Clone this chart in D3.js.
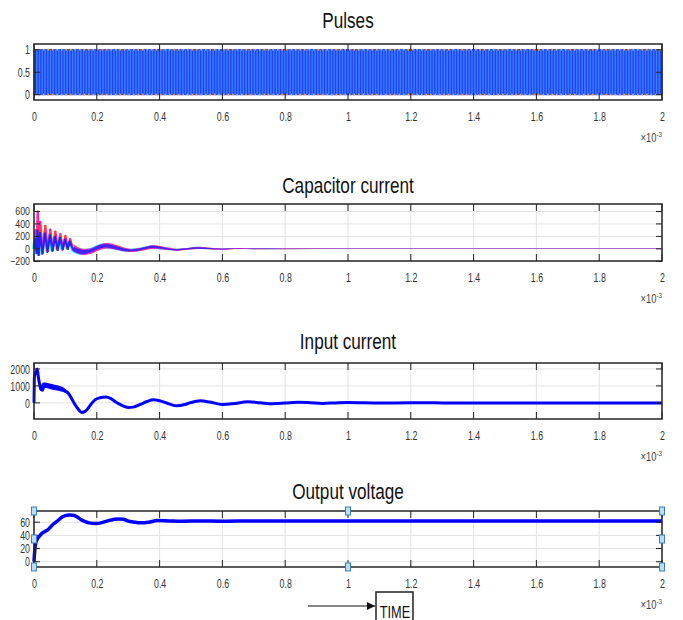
<!DOCTYPE html>
<html>
<head>
<meta charset="utf-8">
<script src="https://cdn.jsdelivr.net/npm/d3@7"></script>
<style>
body{margin:0;background:#fff}
svg{display:block;font-family:"Liberation Sans",Arial,sans-serif}
</style>
</head>
<body>
<svg width="683" height="620"></svg>
<script>
// time axis, in ms (shown as x10^-3 s)
const timeTicks = [0, 0.2, 0.4, 0.6, 0.8, 1, 1.2, 1.4, 1.6, 1.8, 2];
const titles = ["Pulses", "Capacitor current", "Input current", "Output voltage"];

const pulseTicks = [0, 0.5, 1];
const capTicks = [-200, 0, 200, 400, 600];
const inTicks = [0, 1000, 2000];
const outTicks = [0, 20, 40, 60];

// gate pulses: switching period (ms), duty and phase of each leg
const pulsePeriod = 0.01;
const pulseDuty = 0.5;
const pulsePhases = [0, 0.25, 0.5, 0.75];
const pulseLevels = [0, 1];

// capacitor current: early ringing peaks (ms, A)
const capPeakT = [0, 0.004, 0.008, 0.011, 0.015, 0.019, 0.027, 0.035, 0.043, 0.051, 0.059, 0.067, 0.075, 0.083, 0.091, 0.099, 0.107, 0.114, 0.122];
const capPinkV = [0, 300, -20, 600, -90, 430, -60, 370, -40, 310, -30, 280, -20, 240, -10, 210, 0, 160, 20];
const capBlueV = [0, 160, -70, 300, -100, 260, -80, 250, -50, 220, -30, 200, -20, 180, -10, 150, 0, 120, 10];
// capacitor current: slow envelope after the start
const capEnvT = [0.122, 0.14, 0.16, 0.18, 0.2, 0.23, 0.26, 0.29, 0.31, 0.34, 0.38, 0.42, 0.455, 0.49, 0.52, 0.56, 0.6, 0.65, 0.7, 0.8, 1.0, 2.0];
const capEnvMid = [20, -30, -50, -35, 10, 50, 25, -15, -25, -5, 30, 5, -15, 0, 15, 5, -5, 5, 0, 0, 0, 0];
const capEnvAmp = [60, 55, 50, 45, 45, 45, 40, 30, 25, 25, 28, 20, 15, 15, 18, 12, 10, 8, 6, 5, 4, 4];

// input current (ms, A)
const inT = [0, 0.001, 0.003, 0.006, 0.01, 0.014, 0.018, 0.022, 0.027, 0.032, 0.036, 0.042, 0.05, 0.06, 0.07, 0.08, 0.09, 0.1, 0.11, 0.12, 0.13, 0.14, 0.152, 0.163, 0.173, 0.185, 0.194, 0.21, 0.229, 0.245, 0.258, 0.28, 0.3, 0.315, 0.34, 0.36, 0.38, 0.4, 0.43, 0.455, 0.48, 0.5, 0.53, 0.56, 0.6, 0.64, 0.68, 0.72, 0.76, 0.8, 0.84, 0.88, 0.92, 0.96, 1.0, 1.1, 1.2, 1.3, 2.0];
const inV = [0, 1400, 1800, 1700, 2000, 1500, 1100, 800, 750, 1050, 1100, 1000, 980, 950, 900, 850, 800, 700, 550, 250, -80, -350, -560, -500, -300, 0, 180, 300, 340, 250, 80, -150, -270, -250, -80, 80, 180, 130, -60, -175, -100, 20, 120, 50, -90, -30, 60, 10, -50, -10, 40, 10, -30, 0, 20, -10, 10, 0, 0];
// extra ripple band on the input current at the start
const inRippleT = [0.02, 0.03, 0.05, 0.07, 0.09, 0.1, 0.11];
const inRippleAmp = [120, 150, 160, 160, 150, 120, 60];

// output voltage (ms, V)
const outT = [0, 0.001, 0.003, 0.006, 0.01, 0.016, 0.025, 0.035, 0.043, 0.055, 0.064, 0.075, 0.09, 0.1, 0.112, 0.125, 0.138, 0.149, 0.163, 0.176, 0.197, 0.213, 0.235, 0.256, 0.271, 0.285, 0.298, 0.32, 0.34, 0.365, 0.393, 0.43, 0.47, 0.53, 0.6, 0.7, 0.8, 1.0, 1.5, 2.0];
const outV = [0, 8, 20, 30, 34, 38, 43, 46, 48, 54, 58, 62, 68, 70, 71, 70.5, 68, 64, 61, 59, 58, 59, 62, 64.5, 65, 64.5, 62, 60, 59, 60, 62.5, 62, 61.5, 62, 61.5, 62, 61.8, 62, 62, 62];

const svg = d3.select("svg");
const left = 34, right = 662;

// MATLAB figure text is narrow: squeeze each label around its own x
function squeeze(sel, s) {
  sel.each(function () {
    const x = +(this.getAttribute("x") || 0);
    d3.select(this).attr("transform", `translate(${x},0) scale(${s},1) translate(${-x},0)`);
  });
}

const panels = [
  {top: 44, bottom: 100, titleY: 28, domain: [-0.12, 1.13], ticks: pulseTicks, yFont: 13},
  {top: 204, bottom: 261, titleY: 193, domain: [-195, 720], ticks: capTicks, yFont: 11},
  {top: 363, bottom: 419, titleY: 349, domain: [-950, 2350], ticks: inTicks, yFont: 13},
  {top: 511, bottom: 567, titleY: 499, domain: [-8, 77], ticks: outTicks, yFont: 13}
];

panels.forEach((p, i) => {
  p.x = d3.scaleLinear().domain([0, 2]).range([left, right]);
  p.y = d3.scaleLinear().domain(p.domain).range([p.bottom, p.top]);
  const g = svg.append("g");
  p.g = g;

  g.append("text")
    .attr("x", (left + right) / 2).attr("y", p.titleY)
    .attr("text-anchor", "middle")
    .attr("font-size", 22).attr("fill", "#111")
    .text(titles[i])
    .call(squeeze, 0.78);

  // grid
  g.selectAll(".gx").data(timeTicks).enter().append("line")
    .attr("x1", d => p.x(d)).attr("x2", d => p.x(d))
    .attr("y1", p.top).attr("y2", p.bottom)
    .attr("stroke", "#e3e3e3").attr("stroke-width", 1);
  g.selectAll(".gy").data(p.ticks).enter().append("line")
    .attr("x1", left).attr("x2", right)
    .attr("y1", d => p.y(d)).attr("y2", d => p.y(d))
    .attr("stroke", "#e3e3e3").attr("stroke-width", 1);

  // tick labels via d3 axes
  g.append("g")
    .attr("transform", `translate(0,${p.bottom})`)
    .call(d3.axisBottom(p.x).tickValues(timeTicks).tickFormat(d3.format("~g")).tickSize(0).tickPadding(12))
    .call(a => a.select(".domain").remove())
    .selectAll("text").attr("font-size", 13).attr("fill", "#333").attr("font-family", null)
    .call(squeeze, 0.68);
  g.append("g")
    .attr("transform", `translate(${left},0)`)
    .call(d3.axisLeft(p.y).tickValues(p.ticks).tickFormat(d3.format("~g")).tickSize(0).tickPadding(4))
    .call(a => a.select(".domain").remove())
    .selectAll("text").attr("font-size", p.yFont).attr("fill", "#333").attr("font-family", null)
    .call(squeeze, p.yFont < 13 ? 0.8 : 0.68);

  const ex = g.append("text")
    .attr("x", right).attr("y", p.bottom + 42)
    .attr("text-anchor", "end").attr("font-size", 12).attr("fill", "#444");
  ex.append("tspan").text("\u00d710");
  ex.append("tspan").attr("dy", -5).attr("font-size", 8).text("-3");
  squeeze(ex, 0.78);
});

// ---- pulses
(function () {
  const p = panels[0];
  const colors = ["#0000ff", "#2260ff", "#0a1cff", "#3c80ff"];
  const starts = d3.range(0, 2, pulsePeriod);
  pulsePhases.forEach((ph, k) => {
    let pts = [[0, pulseLevels[0]]];
    starts.forEach(s => {
      const on = s + ph * pulsePeriod, off = on + pulseDuty * pulsePeriod;
      pts.push([on, pulseLevels[0]], [on, pulseLevels[1]], [Math.min(off, 2), pulseLevels[1]], [Math.min(off, 2), pulseLevels[0]]);
    });
    p.g.append("path")
      .attr("d", d3.line().x(d => p.x(d[0])).y(d => p.y(d[1]))(pts))
      .attr("fill", "none").attr("stroke", colors[k]).attr("stroke-width", 1);
  });
  p.g.selectAll(".lvl").data(pulseLevels).enter().append("line")
    .attr("x1", left).attr("x2", right)
    .attr("y1", d => p.y(d)).attr("y2", d => p.y(d))
    .attr("stroke", "#ff9933").attr("stroke-width", 1.5)
    .attr("stroke-dasharray", "1.5,3");
})();

// ---- capacitor current
(function () {
  const p = panels[1];
  const env = capEnvT.map((t, i) => ({t, mid: capEnvMid[i], amp: capEnvAmp[i]}));
  const band = (off, k) => d3.area()
    .x(d => p.x(d.t + off))
    .y0(d => p.y(d.mid - d.amp * k))
    .y1(d => p.y(d.mid + d.amp * k))
    .curve(d3.curveMonotoneX)(env);
  [["#ffff00", 0.004, 1], ["#00ffff", -0.004, 1], ["#ff00ff", 0.002, 0.95], ["#ff3399", 0, 0.8], ["#2222ff", -0.002, 0.65]]
    .forEach(([c, off, k]) => {
      p.g.append("path").attr("d", band(off, k)).attr("fill", c).attr("opacity", 0.85);
    });
  const zig = (vals, off) => d3.line().x((d, i) => p.x(capPeakT[i] + off)).y(d => p.y(d))(vals);
  [["#ffff00", capPinkV, 0.003, 2], ["#00ffff", capBlueV, -0.003, 2], ["#ff00ff", capPinkV, 0.001, 2],
   ["#ff3377", capPinkV, 0, 1.5], ["#2222ff", capBlueV, 0, 2]]
    .forEach(([c, v, off, w]) => {
      p.g.append("path").attr("d", zig(v, off)).attr("fill", "none")
        .attr("stroke", c).attr("stroke-width", w).attr("stroke-linejoin", "round");
    });
})();

// ---- input current
(function () {
  const p = panels[2];
  const rip = inRippleT.map((t, i) => ({t, mid: inV[d3.bisectLeft(inT, t)], amp: inRippleAmp[i]}));
  p.g.append("path")
    .attr("d", d3.area().x(d => p.x(d.t)).y0(d => p.y(d.mid - d.amp)).y1(d => p.y(d.mid + d.amp)).curve(d3.curveMonotoneX)(rip))
    .attr("fill", "#0000ff");
  p.g.append("path")
    .attr("d", d3.line().x((d, i) => p.x(inT[i])).y(d => p.y(d)).curve(d3.curveMonotoneX)(inV))
    .attr("fill", "none").attr("stroke", "#0000ff").attr("stroke-width", 3).attr("stroke-linejoin", "round");
})();

// ---- output voltage
(function () {
  const p = panels[3];
  p.g.append("path")
    .attr("d", d3.line().x((d, i) => p.x(outT[i])).y(d => p.y(d)).curve(d3.curveMonotoneX)(outV))
    .attr("fill", "none").attr("stroke", "#0000ff").attr("stroke-width", 3.5).attr("stroke-linejoin", "round");
})();

// box and inner ticks on top of the data
panels.forEach(p => {
  const g = p.g;
  timeTicks.forEach(t => {
    g.append("line").attr("x1", p.x(t)).attr("x2", p.x(t)).attr("y1", p.top).attr("y2", p.top + 7).attr("stroke", "#222");
    g.append("line").attr("x1", p.x(t)).attr("x2", p.x(t)).attr("y1", p.bottom).attr("y2", p.bottom - 7).attr("stroke", "#222");
  });
  p.ticks.forEach(v => {
    g.append("line").attr("x1", left).attr("x2", left + 6).attr("y1", p.y(v)).attr("y2", p.y(v)).attr("stroke", "#222");
    g.append("line").attr("x1", right).attr("x2", right - 6).attr("y1", p.y(v)).attr("y2", p.y(v)).attr("stroke", "#222");
  });
  g.append("rect").attr("x", left).attr("y", p.top)
    .attr("width", right - left).attr("height", p.bottom - p.top)
    .attr("fill", "none").attr("stroke", "#262626").attr("stroke-width", 1.5);
});

// selection handles on the output voltage axes
(function () {
  const p = panels[3];
  const hx = [left, (left + right) / 2, right], hy = [p.top, (p.top + p.bottom) / 2, p.bottom];
  const pts = [];
  hx.forEach((x, i) => hy.forEach((y, j) => { if (!(i === 1 && j === 1)) pts.push([x, y]); }));
  p.g.selectAll(".h").data(pts).enter().append("rect")
    .attr("x", d => d[0] - 2.5).attr("y", d => d[1] - 4)
    .attr("width", 5).attr("height", 8)
    .attr("fill", "#bcdcf4").attr("stroke", "#3a7fc0").attr("stroke-width", 1);
})();

// TIME block with arrow
const tb = svg.append("g");
svg.append("defs").append("marker")
  .attr("id", "ah").attr("viewBox", "0 0 10 10").attr("refX", 10).attr("refY", 5)
  .attr("markerWidth", 7).attr("markerHeight", 7).attr("orient", "auto")
  .append("path").attr("d", "M0,0L10,5L0,10z").attr("fill", "#111");
tb.append("line").attr("x1", 308).attr("x2", 375).attr("y1", 606).attr("y2", 606)
  .attr("stroke", "#111").attr("stroke-width", 1.2).attr("marker-end", "url(#ah)");
tb.append("path").attr("d", "M376,621V592H413V621")
  .attr("fill", "none").attr("stroke", "#222").attr("stroke-width", 1.5);
tb.append("text").attr("x", 395).attr("y", 618).attr("text-anchor", "middle")
  .attr("font-size", 17).attr("fill", "#111").text("TIME")
  .call(squeeze, 0.75);
</script>
</body>
</html>
